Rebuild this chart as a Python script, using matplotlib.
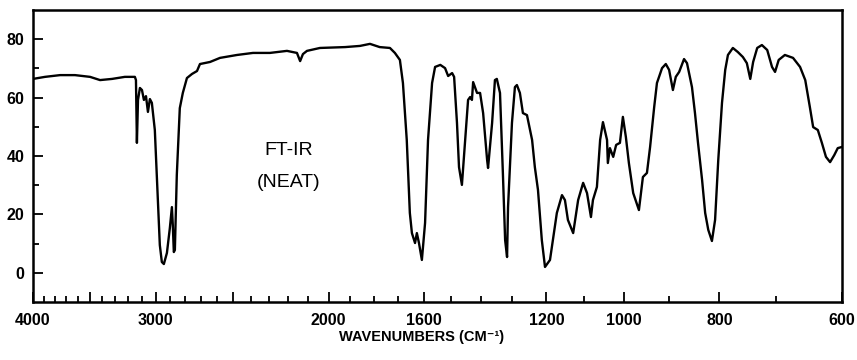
import matplotlib
matplotlib.use("Agg")
import matplotlib.pyplot as plt
from matplotlib.ticker import FixedLocator, FixedFormatter, NullFormatter

# transmittance trace, high wavenumber -> low
wavenumber = [
    4000, 3889, 3754, 3625, 3499, 3418, 3323, 3225, 3150, 3142,
    3135, 3127, 3113, 3098, 3084, 3069, 3055, 3041, 3027, 3006,
    2985, 2971, 2957, 2943, 2922, 2902, 2888, 2882, 2875, 2868,
    2855, 2835, 2815, 2788, 2755, 2723, 2704, 2641, 2580, 2479,
    2388, 2295, 2205, 2154, 2138, 2124, 2104, 2041, 1924, 1858,
    1815, 1774, 1732, 1712, 1692, 1680, 1665, 1653, 1645, 1633,
    1626, 1618, 1607, 1595, 1584, 1569, 1558, 1539, 1522, 1511,
    1497, 1490, 1480, 1473, 1463, 1452, 1442, 1435, 1429, 1425,
    1412, 1402, 1392, 1379, 1376, 1363, 1354, 1348, 1338, 1329,
    1322, 1316, 1313, 1301, 1292, 1286, 1277, 1268, 1256, 1241,
    1233, 1224, 1213, 1204, 1190, 1182, 1171, 1157, 1149, 1141,
    1127, 1114, 1101, 1091, 1081, 1076, 1066, 1058, 1051, 1041,
    1039, 1034, 1026, 1019, 1010, 1003, 996, 989, 979, 972,
    966, 957, 948, 941, 932, 926, 915, 907, 900, 892,
    886, 879, 869, 863, 853, 847, 841, 833, 827, 821,
    814, 808, 802, 795, 789, 784, 775, 766, 757, 750,
    744, 739, 732, 724, 715, 707, 702, 696, 686, 673,
    662, 654, 647, 642, 635, 629, 623, 617, 611, 606,
    600,
]
transmittance = [
    66.4, 67.1, 67.7, 67.7, 67.1, 66.0, 66.4, 67.1, 67.1, 66.0,
    44.5, 59.2, 63.3, 62.6, 59.2, 60.5, 55.1, 59.5, 58.2, 48.9,
    24.9, 9.5, 3.7, 3.0, 6.8, 15.3, 22.5, 16.4, 7.1, 7.8,
    33.5, 56.4, 61.6, 66.7, 68.1, 69.1, 71.5, 72.2, 73.6, 74.6,
    75.3, 75.3, 76.0, 75.3, 72.5, 74.9, 76.0, 77.0, 77.3, 77.7,
    78.4, 77.3, 77.0, 75.3, 72.9, 65.0, 45.5, 20.5, 13.6, 10.2,
    13.6, 10.2, 4.4, 17.1, 45.5, 65.0, 70.5, 71.2, 70.1, 67.4,
    68.4, 67.1, 51.3, 36.2, 30.1, 45.5, 59.2, 60.2, 59.2, 65.3,
    61.6, 61.6, 54.7, 38.6, 35.9, 51.3, 66.0, 66.4, 61.6, 34.2,
    11.2, 5.4, 22.5, 51.3, 63.6, 64.3, 61.6, 54.7, 54.0, 45.5,
    36.2, 28.4, 11.2, 2.0, 4.4, 11.2, 20.5, 26.6, 24.9, 18.1,
    13.6, 24.9, 30.8, 27.3, 19.1, 24.9, 29.4, 45.5, 51.6, 45.5,
    37.6, 42.7, 39.7, 43.8, 44.5, 53.4, 46.5, 37.6, 27.3, 24.2,
    21.5, 32.8, 34.2, 43.1, 56.8, 65.0, 70.1, 71.5, 69.5, 62.6,
    67.1, 68.8, 73.2, 71.8, 63.6, 54.7, 44.5, 31.8, 20.5, 14.7,
    10.9, 18.1, 38.6, 58.2, 69.5, 74.6, 77.0, 75.6, 73.9, 71.8,
    66.4, 72.2, 77.0, 78.0, 76.3, 70.5, 68.8, 72.9, 74.6, 73.6,
    70.5, 66.0, 56.8, 49.9, 48.9, 44.5, 39.7, 37.9, 40.3, 42.7,
    43.1,
]

x_major = [4000, 3500, 3000, 2500, 2000, 1600, 1200, 1000, 800, 600]
x_labels = ["4000", "", "3000", "", "2000", "1600", "1200", "1000", "800", "600"]
x_minor = [w for w in range(3900, 600, -100) if w not in x_major]
y_major = [0, 20, 40, 60, 80]
y_minor = [10, 30, 50, 70]

FONT = ["Liberation Sans", "DejaVu Sans"]

fig = plt.figure(figsize=(8.57, 3.6), dpi=100)
ax = fig.add_axes([33 / 857, 1 - 302 / 360, 809 / 857, 292 / 360])

ax.plot(wavenumber, transmittance, color="black", lw=1.7, solid_joinstyle="round")

ax.set_xscale("log")
ax.set_xlim(4000, 600)
ax.set_ylim(-10, 90)

ax.xaxis.set_major_locator(FixedLocator(x_major))
ax.xaxis.set_major_formatter(FixedFormatter(x_labels))
ax.xaxis.set_minor_locator(FixedLocator(x_minor))
ax.xaxis.set_minor_formatter(NullFormatter())
ax.yaxis.set_major_locator(FixedLocator(y_major))
ax.yaxis.set_minor_locator(FixedLocator(y_minor))

ax.tick_params(which="both", direction="in", width=1.3, color="black",
               top=False, right=False)
ax.tick_params(which="major", length=7)
ax.tick_params(which="minor", length=4)
ax.tick_params(axis="x", which="major", pad=8)
ax.tick_params(axis="y", which="major", pad=6)
for lab in ax.get_xticklabels() + ax.get_yticklabels():
    lab.set_family(FONT)
    lab.set_fontweight("bold")
    lab.set_fontsize(11.5)

for sp in ax.spines.values():
    sp.set_linewidth(1.8)

ax.text(2195, 42, "FT-IR", ha="center", va="center", fontsize=14, family=FONT)
ax.text(2195, 31, "(NEAT)", ha="center", va="center", fontsize=14, family=FONT)

fig.text(422 / 857, 1 - 337 / 360, "WAVENUMBERS (CM\u207b\u00b9)", ha="center",
         va="center", fontsize=10.5, fontweight="bold", family=FONT)

fig.savefig("out.png", dpi=100)
